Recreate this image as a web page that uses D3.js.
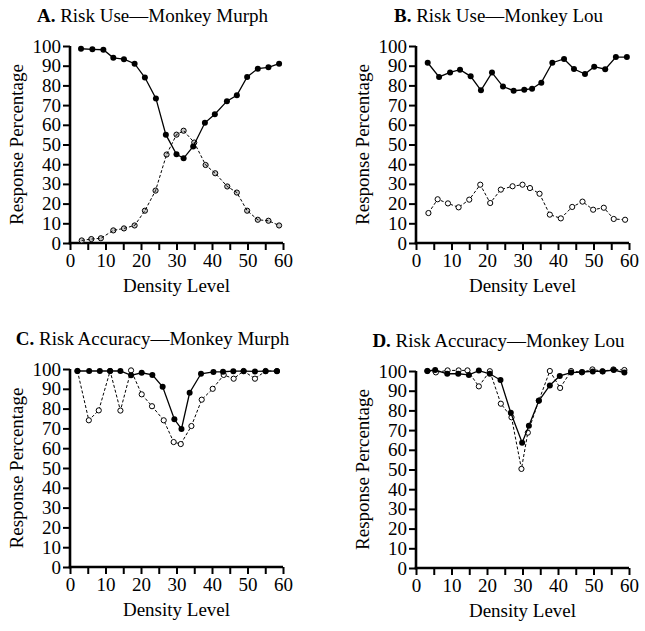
<!DOCTYPE html>
<html><head><meta charset="utf-8">
<script src="https://cdn.jsdelivr.net/npm/d3@7"></script>
<style>
html,body{margin:0;padding:0;background:#fff;}
svg text{font-family:"Liberation Serif","Times New Roman",serif;fill:#000;}
</style></head>
<body><svg id="chart" width="645" height="631"></svg>
<script>
// ---- data ----
const xTicks = [0,5,10,15,20,25,30,35,40,45,50,55,60];
const xTickLabels = [0,10,20,30,40,50,60];
const yTicks = [0,10,20,30,40,50,60,70,80,90,100];

const titles = [
  ["A.", " Risk Use\u2014Monkey Murph"],
  ["B.", " Risk Use\u2014Monkey Lou"],
  ["C.", " Risk Accuracy\u2014Monkey Murph"],
  ["D.", " Risk Accuracy\u2014Monkey Lou"]
];

const aFilledX = [3.1,6.3,9.4,12.2,15.2,18.2,21.1,24.2,27,30,32,34.7,38,40.8,44.2,47,49.9,52.9,55.9,58.9];
const aFilledY = [98.6,98.3,98.1,94,93.3,91,84,73.4,55,45,43,49,61,65.4,72,75,84.3,88.5,89.2,91];
const aOpenX = [3.3,6,8.7,12.2,15.2,18.2,21.1,24.1,27.2,30,32,35,38.2,40.9,44.3,47,49.9,52.9,55.9,58.9];
const aOpenY = [1.3,2,2.4,6.4,7.4,8.9,16.4,26.6,44.9,55,57,51,39.6,35.4,28.7,25.6,16.4,11.8,11.3,8.9];

const bFilledX = [3.3,6.5,9.6,12.4,15.4,18.3,21.4,24.5,27.5,30.5,32.7,35.3,38.4,41.7,44.5,47.6,50.2,53.3,56.3,59.4];
const bFilledY = [91.5,84.3,86.6,88,84.6,77.5,86.5,79.4,77.3,77.8,78.3,81.4,91.5,93.4,88.3,85.8,89.5,88.2,94.4,94.4];
const bOpenX = [3.5,6.1,9,12,15,18.1,20.9,23.9,27.2,30,32.1,34.8,37.7,40.8,44,46.9,49.9,52.9,55.7,58.9];
const bOpenY = [15.2,22.2,20.1,18.1,22,29.6,20.3,27.1,28.8,29.6,27.9,25,14.4,12.5,18.3,21,16.9,17.9,12.2,11.8];

const cFilledX = [2.1,5.4,8.4,11.3,14.2,17.2,20.2,23.2,26.1,29.4,31.4,33.7,36.9,40.4,43.1,46,48.9,52.1,55.1,58.3];
const cFilledY = [99,99,99,99,99,96.8,98.1,97,91,74.6,69.7,88,97.6,98.5,98.6,98.9,98.9,98.8,98.9,98.9];
const cOpenX = [2.1,5.3,8.1,11.3,14.2,17.2,20.2,23.1,26.4,29.2,31.2,34.2,37.1,40.2,43.3,46.1,48.9,52.1,55.1,58.3];
const cOpenY = [99,74.1,79.1,99,79,99.3,87.2,81.2,74.1,63.1,62.1,71.2,84.5,90,97,95.1,99,95.1,99,99];

const dFilledX = [3.2,5.4,8.8,11.9,14.9,17.7,20.8,23.8,26.7,29.9,31.8,34.6,37.7,40.5,43.7,46.8,49.8,52.6,55.7,58.7];
const dFilledY = [100,100.5,98.6,98.6,98,100.2,98.6,95.4,78.8,63.6,72.2,84.9,92.7,97.5,99.2,99.5,99.8,99.8,100.5,99.2];
const dOpenX = [3.2,5.6,8.9,12,14.5,17.7,20.8,23.9,26.9,29.7,31.5,34.6,37.7,40.6,43.7,46.7,49.7,52.5,55.6,58.7];
const dOpenY = [100,99.3,100.3,100.3,100.3,92.2,99.9,83.4,76.5,50.3,68.7,85,100,91.4,100,99.3,100.8,99.9,100.8,100.5];

const panels = [
  {box:[70,283,46,243], filled:[aFilledX,aFilledY], open:[aOpenX,aOpenY], openFill:"#c8c8c8", lineOnTop:true},
  {box:[416,629,46,243], filled:[bFilledX,bFilledY], open:[bOpenX,bOpenY], openFill:"#fff", lineOnTop:false},
  {box:[70,283,369,567], filled:[cFilledX,cFilledY], open:[cOpenX,cOpenY], openFill:"#fff", lineOnTop:false},
  {box:[416,629,371,568], filled:[dFilledX,dFilledY], open:[dOpenX,dOpenY], openFill:"#fff", lineOnTop:false}
];

const FS = "19px";
const svg = d3.select("#chart");

panels.forEach((p, i) => {
  const [x0, x1, yTop, yBot] = p.box;
  const x = d3.scaleLinear().domain([0,60]).range([x0,x1]);
  const y = d3.scaleLinear().domain([0,100]).range([yBot,yTop]);
  const g = svg.append("g");

  // title
  const t = g.append("text").attr("x",(x0+x1)/2 - 24).attr("y", yTop - 24)
    .attr("text-anchor","middle").style("font-size",FS);
  t.append("tspan").attr("font-weight","bold").text(titles[i][0]);
  t.append("tspan").text(titles[i][1]);

  // axes
  const xa = g.append("g").attr("transform",`translate(0,${yBot})`)
    .call(d3.axisBottom(x).tickValues(xTicks).tickSize(7).tickSizeOuter(0).tickPadding(4)
      .tickFormat(d => xTickLabels.includes(d) ? d : ""));
  const ya = g.append("g").attr("transform",`translate(${x0},0)`)
    .call(d3.axisLeft(y).tickValues(yTicks).tickSize(7).tickSizeOuter(0).tickPadding(2));
  [xa,ya].forEach(a => {
    a.select(".domain").attr("stroke","#000").attr("stroke-width",2.6);
    a.selectAll(".tick line").attr("stroke","#000").attr("stroke-width",2);
    a.selectAll(".tick text").style("font-size",FS)
      .style("font-family","'Liberation Serif','Times New Roman',serif").attr("fill","#000");
  });
  xa.select(".domain").attr("d",`M${x0-1.3},0H${x1}`);
  ya.select(".domain").attr("d",`M0,${yBot+1.3}V${yTop}`);

  // axis titles
  g.append("text").attr("x",(x0+x1)/2).attr("y", yBot + 49)
    .attr("text-anchor","middle").style("font-size",FS).text("Density Level");
  g.append("text").attr("transform",`translate(${x0-47},${(yTop+yBot)/2}) rotate(-90)`)
    .attr("text-anchor","middle").style("font-size",FS).text("Response Percentage");

  const line = d3.line().x(d => x(d[0])).y(d => y(d[1]));
  const filled = p.filled[0].map((v,k) => [v, p.filled[1][k]]);
  const open = p.open[0].map((v,k) => [v, p.open[1][k]]);

  const drawOpenLine = () => g.append("path").datum(open).attr("d",line)
    .attr("fill","none").attr("stroke","#000").attr("stroke-width",1).attr("stroke-dasharray","3,2");

  if (!p.lineOnTop) drawOpenLine();
  g.selectAll(null).data(open).enter().append("circle")
    .attr("cx",d=>x(d[0])).attr("cy",d=>y(d[1])).attr("r",2.6)
    .attr("fill",p.openFill).attr("stroke","#000").attr("stroke-width",1);
  if (p.lineOnTop) drawOpenLine();

  g.append("path").datum(filled).attr("d",line)
    .attr("fill","none").attr("stroke","#000").attr("stroke-width",1.3);
  g.selectAll(null).data(filled).enter().append("circle")
    .attr("cx",d=>x(d[0])).attr("cy",d=>y(d[1])).attr("r",3)
    .attr("fill","#000");
});
</script></body></html>
